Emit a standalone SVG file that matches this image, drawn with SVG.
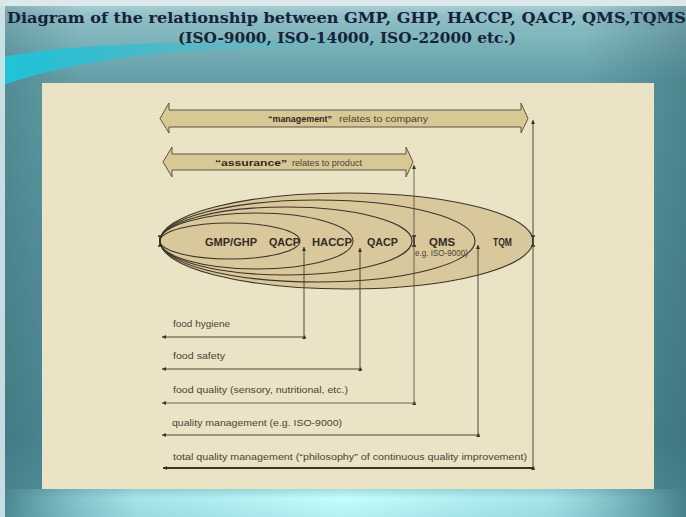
<svg xmlns="http://www.w3.org/2000/svg" width="686" height="517" viewBox="0 0 686 517">
<defs>
  <linearGradient id="bg" x1="0" y1="0" x2="0" y2="1">
    <stop offset="0" stop-color="#b7d6da"/>
    <stop offset="0.03" stop-color="#8fc0c6"/>
    <stop offset="0.15" stop-color="#64a0a8"/>
    <stop offset="0.85" stop-color="#4f8a94"/>
    <stop offset="1" stop-color="#5a9aa3"/>
  </linearGradient>
  <linearGradient id="side" x1="0" y1="0" x2="1" y2="0">
    <stop offset="0" stop-color="#1c4a55" stop-opacity="0.25"/>
    <stop offset="0.12" stop-color="#1c4a55" stop-opacity="0"/>
    <stop offset="0.85" stop-color="#1c4a55" stop-opacity="0"/>
    <stop offset="1" stop-color="#1c4a55" stop-opacity="0.3"/>
  </linearGradient>
  <linearGradient id="glowH" x1="0" y1="0" x2="1" y2="0">
    <stop offset="0" stop-color="#bdf8fb" stop-opacity="0"/>
    <stop offset="0.2" stop-color="#b4f3f6" stop-opacity="0.85"/>
    <stop offset="0.5" stop-color="#c6feff"/>
    <stop offset="0.8" stop-color="#b4f3f6" stop-opacity="0.85"/>
    <stop offset="1" stop-color="#bdf8fb" stop-opacity="0"/>
  </linearGradient>
  <linearGradient id="glowV" x1="0" y1="0" x2="0" y2="1">
    <stop offset="0" stop-color="#fff" stop-opacity="0.7"/>
    <stop offset="0.35" stop-color="#fff" stop-opacity="1"/>
    <stop offset="1" stop-color="#fff" stop-opacity="0.85"/>
  </linearGradient>
  <mask id="gm"><rect x="0" y="489" width="686" height="28" fill="url(#glowV)"/></mask>
  <linearGradient id="sw" x1="0" y1="0" x2="1" y2="0">
    <stop offset="0" stop-color="#1fc4da"/>
    <stop offset="0.12" stop-color="#2bbfd2" stop-opacity="0.9"/>
    <stop offset="0.45" stop-color="#6ab8c2" stop-opacity="0.5"/>
    <stop offset="1" stop-color="#8cc0c6" stop-opacity="0"/>
  </linearGradient>
  <marker id="aL" viewBox="0 0 6 6" refX="6" refY="3" markerWidth="5" markerHeight="4" markerUnits="userSpaceOnUse" orient="auto">
    <path d="M0,0 L6,3 L0,6 z" fill="#3a3326"/>
  </marker>
  <marker id="aU" viewBox="0 0 6 6" refX="6" refY="3" markerWidth="5" markerHeight="4" markerUnits="userSpaceOnUse" orient="auto-start-reverse">
    <path d="M0,0 L6,3 L0,6 z" fill="#3a3326"/>
  </marker>
  <style>
    .title{font-family:"DejaVu Serif","Liberation Serif",serif;font-weight:bold;fill:#172238}
    .lbl{font-family:"Liberation Sans",Arial,sans-serif;font-size:9px;fill:#4a4435}
    .arrtxt{font-family:"Liberation Sans",Arial,sans-serif;font-size:9.5px;fill:#4a4435}
    .b{font-weight:bold;fill:#2e281e}
    .ell{fill:#d9c89b;stroke:#3c3428;stroke-width:1.1}
    .big{fill:#d8c896;stroke:#5e5543;stroke-width:1}
    .nl{font-family:"Liberation Sans",Arial,sans-serif;font-size:11px;font-weight:bold;fill:#332c22}
    .ln{fill:none;stroke:#4e4738;stroke-width:1}
    .ibar{fill:none;stroke:#2e281e;stroke-width:1.5}
  </style>
</defs>

<!-- background -->
<rect x="0" y="0" width="686" height="517" fill="url(#bg)"/>
<rect x="0" y="0" width="686" height="517" fill="url(#side)"/>
<rect x="0" y="489" width="686" height="28" fill="url(#glowH)" mask="url(#gm)"/>
<path d="M0,58 C30,50 100,44 200,42 C350,38 500,32 686,28 L686,34 C500,38 330,46 210,50 C120,55 50,68 0,86 Z" fill="url(#sw)"/>
<rect x="0" y="0" width="686" height="6" fill="#dbe9eb"/>
<rect x="0" y="0" width="5" height="517" fill="#d4e8ea" opacity="0.9"/>

<!-- title -->
<text class="title" x="7" y="23" font-size="15" textLength="679" lengthAdjust="spacingAndGlyphs">Diagram of the relationship between GMP, GHP, HACCP, QACP, QMS,TQMS</text>
<text class="title" x="178" y="43" font-size="14" textLength="338" lengthAdjust="spacingAndGlyphs">(ISO-9000, ISO-14000, ISO-22000 etc.)</text>

<!-- panel -->
<rect x="42" y="83" width="612" height="406" fill="#ebe3c5"/>

<!-- management arrow -->
<g id="management">
  <path class="big" d="M160,118.5 L169,103 L169,110 L521,110 L521,103 L528,118.5 L521,133 L521,127 L169,127 L169,133 Z"/>
  <text class="arrtxt b" x="268" y="122" textLength="64" lengthAdjust="spacingAndGlyphs">“management”</text>
  <text class="arrtxt" x="339" y="122" textLength="89" lengthAdjust="spacingAndGlyphs">relates to company</text>
</g>

<!-- assurance arrow -->
<g id="assurance">
  <path class="big" d="M163,162 L172,147 L172,154 L406,154 L406,147 L413,162 L406,177 L406,170 L172,170 L172,177 Z"/>
  <text class="arrtxt b" x="215" y="166" textLength="72" lengthAdjust="spacingAndGlyphs">“assurance”</text>
  <text class="arrtxt" x="292" y="166" textLength="70" lengthAdjust="spacingAndGlyphs">relates to product</text>
</g>

<!-- nested ellipses -->
<g id="tqm"><ellipse class="ell" cx="346.5" cy="241" rx="186.5" ry="48"/></g>
<g id="qms"><ellipse class="ell" cx="317.5" cy="241" rx="157.5" ry="41"/></g>
<g id="qacp-outer"><ellipse class="ell" cx="286" cy="241" rx="126" ry="34"/></g>
<g id="haccp"><ellipse class="ell" cx="256.5" cy="241" rx="96.5" ry="28"/></g>
<g id="gmp"><ellipse class="ell" cx="230" cy="241" rx="70" ry="18"/></g>

<g id="ellipse-labels">
  <text class="nl" x="205" y="245.5" textLength="52" lengthAdjust="spacingAndGlyphs">GMP/GHP</text>
  <text class="nl" x="269" y="245.5" textLength="31" lengthAdjust="spacingAndGlyphs">QACP</text>
  <text class="nl" x="312" y="245.5" textLength="40" lengthAdjust="spacingAndGlyphs">HACCP</text>
  <text class="nl" x="367" y="245.5" textLength="31" lengthAdjust="spacingAndGlyphs">QACP</text>
  <text class="nl" x="429" y="245.5" textLength="26" lengthAdjust="spacingAndGlyphs">QMS</text>
  <text class="lbl" x="415" y="256" font-size="6.5" textLength="53" lengthAdjust="spacingAndGlyphs">e.g. ISO-9000)</text>
  <text class="nl" x="493" y="245.5" textLength="19" lengthAdjust="spacingAndGlyphs">TQM</text>
</g>

<!-- I-bars -->
<g id="bars">
  <path class="ibar" d="M160,236 V246 M158,236 H162 M158,246 H162"/>
  <path class="ibar" d="M414,236 V246 M412,236 H416 M412,246 H416"/>
  <path class="ibar" d="M533,236 V246 M531,236 H535 M531,246 H535"/>
</g>

<!-- area labels -->
<g id="area-labels">
  <text class="lbl" x="173" y="327" textLength="57" lengthAdjust="spacingAndGlyphs">food hygiene</text>
  <text class="lbl" x="173" y="359" textLength="52" lengthAdjust="spacingAndGlyphs">food safety</text>
  <text class="lbl" x="173" y="393" textLength="175" lengthAdjust="spacingAndGlyphs">food quality (sensory, nutritional, etc.)</text>
  <text class="lbl" x="172" y="426" textLength="170" lengthAdjust="spacingAndGlyphs">quality management (e.g. ISO-9000)</text>
  <text class="lbl" x="173" y="460" textLength="354" lengthAdjust="spacingAndGlyphs">total quality management (“philosophy” of continuous quality improvement)</text>
</g>

<!-- connectors -->
<g id="connectors">
  <polyline class="ln" points="304,247 304,337 162,337" marker-start="url(#aU)" marker-end="url(#aL)"/>
  <polyline class="ln" points="360,248 360,369 162,369" marker-start="url(#aU)" marker-end="url(#aL)"/>
  <polyline class="ln" points="414,165 414,403 162,403" marker-start="url(#aU)" marker-end="url(#aL)" stroke-opacity="0.8"/>
  <polyline class="ln" points="478,245 478,435 162,435" marker-start="url(#aU)" marker-end="url(#aL)"/>
  <polyline class="ln" points="533,120 533,468" marker-start="url(#aU)"/>
  <line x1="533" y1="468" x2="163" y2="468" stroke="#3a3326" stroke-width="2" marker-end="url(#aL)"/>
  <path d="M302,339 L305,335 L306,339 Z M358,371 L361,367 L362,371 Z M412,405 L415,401 L416,405 Z M476,437 L479,433 L480,437 Z M531,470 L534,466 L535,470 Z" fill="#3a3326"/>
</g>
</svg>
